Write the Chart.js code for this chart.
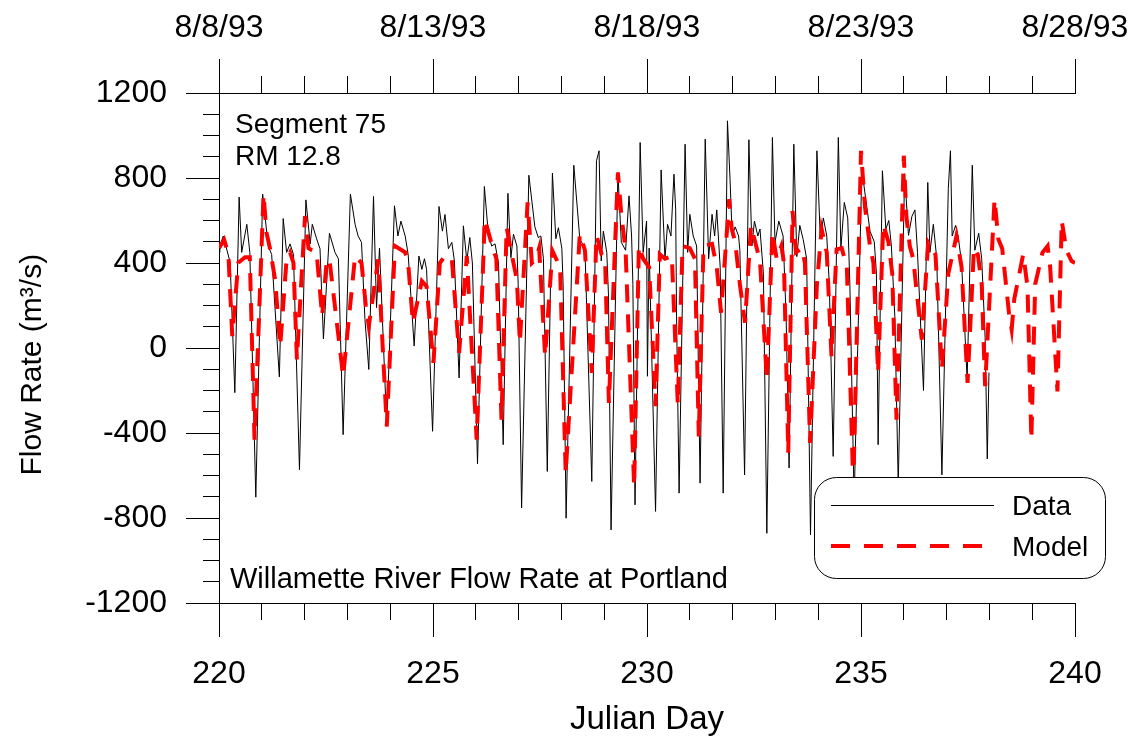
<!DOCTYPE html>
<html>
<head>
<meta charset="utf-8">
<script src="https://cdn.jsdelivr.net/npm/chart.js@4.4.1/dist/chart.umd.min.js"></script>
<style>
  html, body { margin: 0; padding: 0; background: #fff; }
  #wrap { width: 1135px; height: 740px; }
</style>
</head>
<body>
<div id="wrap"><canvas id="flowChart" width="1135" height="740"></canvas></div>
<script>
// Willamette River flow rate at Portland - data vs model

// measured flow (Julian day, m3/s)
const dataDays = [
  220.00, 220.02, 220.10, 220.26, 220.37, 220.47, 220.53, 220.65, 220.72, 220.86,
  221.02, 221.15, 221.23, 221.41, 221.50, 221.58, 221.66, 221.74, 221.88, 222.03,
  222.13, 222.18, 222.28, 222.36, 222.44, 222.58, 222.71, 222.79, 222.90, 223.07,
  223.18, 223.25, 223.33, 223.41, 223.50, 223.61, 223.68, 223.75, 223.92, 224.10,
  224.18, 224.25, 224.35, 224.42, 224.56, 224.67, 224.74, 224.80, 224.85, 224.99,
  225.14, 225.22, 225.28, 225.36, 225.44, 225.50, 225.61, 225.71, 225.79, 225.86,
  225.92, 226.04, 226.20, 226.29, 226.37, 226.45, 226.53, 226.64, 226.75, 226.82,
  226.88, 226.96, 226.99, 227.07, 227.24, 227.38, 227.46, 227.52, 227.58, 227.67,
  227.79, 227.87, 227.93, 228.01, 228.04, 228.11, 228.29, 228.43, 228.55, 228.71,
  228.82, 228.88, 228.93, 228.98, 229.06, 229.10, 229.16, 229.32, 229.40, 229.50,
  229.58, 229.64, 229.67, 229.72, 229.84, 229.91, 229.99, 230.01, 230.05, 230.20,
  230.33, 230.42, 230.48, 230.56, 230.63, 230.67, 230.69, 230.75, 230.89, 230.95,
  231.00, 231.08, 231.16, 231.24, 231.36, 231.44, 231.52, 231.58, 231.63, 231.71,
  231.78, 231.88, 231.94, 231.99, 232.06, 232.14, 232.17, 232.28, 232.38, 232.45,
  232.51, 232.59, 232.64, 232.72, 232.80, 232.93, 232.99, 233.08, 233.18, 233.25,
  233.32, 233.43, 233.50, 233.57, 233.65, 233.73, 233.82, 233.97, 234.05, 234.12,
  234.20, 234.26, 234.35, 234.47, 234.53, 234.61, 234.69, 234.74, 234.84, 235.02,
  235.21, 235.31, 235.36, 235.40, 235.50, 235.58, 235.65, 235.71, 235.79, 235.87,
  236.02, 236.11, 236.19, 236.26, 236.32, 236.46, 236.56, 236.61, 236.69, 236.77,
  236.89, 237.04, 237.09, 237.13, 237.21, 237.27, 237.35, 237.48, 237.60, 237.66,
  237.75, 237.82, 237.90, 237.95, 237.99
];
const dataFlow = [
  450, 480, 527, 403, -210, 710, 450, 582, 450, -702,
  724, 480, 440, -136, 609, 450, 490, 440, -573, 697,
  490, 582, 514, 467, 43, 540, 450, 420, -408, 724,
  582, 527, 497, 134, -101, 713, 190, 470, -369, 669,
  527, 597, 527, 440, 9, 433, 370, 420, 370, -392,
  666, 550, 628, 467, 497, 410, -141, 575, 410, 520,
  400, -545, 760, 543, 480, 490, 400, -455, 728, 425,
  535, 480, 300, -753, 813, 570, 520, 527, 420, -581,
  823, 514, 566, 470, 300, -801, 860, 514, 467, -628,
  881, 928, 410, 550, 450, 250, -856, 826, 497, 460,
  716, 527, 300, -738, 967, 450, 597, -133, 470, -769,
  838, 420, 582, 527, 818, 650, 150, -683, 959, 450,
  629, 527, 480, -636, 983, 420, 629, 527, 650, 380,
  -683, 1069, 794, 527, 570, 527, 460, -597, 980, 480,
  597, 527, 560, 350, -872, 991, 497, 597, 527, 150,
  -565, 959, 430, 577, 510, 420, -879, 928, 514, 612,
  527, 300, -510, 991, 470, 685, 612, 300, -720, 840,
  550, 500, 350, -455, 834, 560, 600, 480, 150, -640,
  820, 530, 620, 650, 450, -200, 779, 450, 582, 420,
  -597, 750, 928, 527, 577, 527, 400, -149, 860, 460,
  540, 420, 50, -522, -116
];

// model flow (Julian day, m3/s)
const modelDays = [
  220.00, 220.12, 220.22, 220.31, 220.45, 220.61, 220.72, 220.83, 221.04, 221.11,
  221.19, 221.31, 221.43, 221.58, 221.66, 221.74, 221.82, 222.01, 222.09, 222.17,
  222.28, 222.41, 222.52, 222.59, 222.90, 223.18, 223.33, 223.43, 223.50, 223.72,
  223.92, 224.11, 224.35, 224.42, 224.53, 224.74, 224.85, 225.01, 225.16, 225.28,
  225.44, 225.61, 225.79, 226.02, 226.21, 226.37, 226.48, 226.60, 226.72, 226.84,
  226.96, 227.03, 227.21, 227.31, 227.41, 227.48, 227.62, 227.79, 227.97, 228.10,
  228.43, 228.55, 228.71, 228.82, 228.94, 229.02, 229.11, 229.32, 229.40, 229.50,
  229.70, 229.81, 229.91, 230.05, 230.20, 230.30, 230.42, 230.58, 230.72, 230.83,
  231.00, 231.12, 231.21, 231.32, 231.52, 231.63, 231.73, 231.92, 231.98, 232.06,
  232.17, 232.29, 232.43, 232.64, 232.80, 232.93, 233.03, 233.14, 233.20, 233.30,
  233.40, 233.48, 233.62, 233.69, 233.81, 233.97, 234.08, 234.20, 234.31, 234.43,
  234.55, 234.67, 234.82, 235.00, 235.09, 235.21, 235.29, 235.40, 235.52, 235.64,
  235.73, 235.83, 236.00, 236.06, 236.14, 236.22, 236.42, 236.57, 236.74, 236.89,
  237.04, 237.23, 237.35, 237.49, 237.64, 237.73, 237.82, 237.90, 238.12, 238.21,
  238.30, 238.46, 238.52, 238.58, 238.79, 238.89, 238.98, 239.07, 239.24, 239.36,
  239.42, 239.59, 239.69, 239.80, 239.92, 240.00
];
const modelFlow = [
  470, 510, 440, 56, 401, 427, 427, -431, 724, 543,
  470, 323, 9, 420, 450, 400, -54, 621, 470, 460,
  450, 150, 420, 400, -133, 433, 400, 200, 103, 417,
  -369, 480, 450, 400, 119, 315, 290, -70, 400, 433,
  420, -23, 433, -431, 606, 490, 420, -337, 567, 440,
  320, 25, 685, 400, 420, 470, -38, 457, 380, -589,
  535, 460, -117, 530, 440, 420, -259, 826, 628, 460,
  -651, 480, 420, 380, -274, 441, 420, 433, -266, 480,
  470, 420, -416, 480, 490, 380, 166, 700, 560, 500,
  300, 119, 575, 410, -149, 543, 420, 480, 400, -494,
  645, 450, 470, 400, -447, 300, 559, 450, -38, 464,
  470, 380, -650, 928, 669, 480, 400, -117, 582, 500,
  350, -337, 905, 620, 480, 420, 40, 496, 440, -101,
  350, 527, 380, -164, 472, 440, 300, -180, 700, 512,
  467, 160, 87, 229, 441, 290, -431, 300, 449, 480,
  380, -204, 598, 460, 409, 400
];

const dayTicks = [220, 225, 230, 235, 240];
const dateLabels = ['8/8/93', '8/13/93', '8/18/93', '8/23/93', '8/28/93'];
const flowTicks = [-1200, -800, -400, 0, 400, 800, 1200];
const minorDayStep = 1;
const minorFlowStep = 100;

const FONT = '"Liberation Sans", Arial, sans-serif';

function toPoints(xs, ys) {
  return xs.map((d, i) => ({ x: d, y: ys[i] }));
}

function crisp(p) {
  return Math.round(p - 0.5) + 0.5;
}

// minor ticks, text notes and the rounded legend box
const extras = {
  id: 'extras',
  afterDraw(chart) {
    const ctx = chart.ctx;
    const { x, x2, y } = chart.scales;
    const area = chart.chartArea;
    ctx.save();

    // minor ticks
    ctx.strokeStyle = '#000';
    ctx.lineWidth = 1;
    ctx.beginPath();
    for (let d = dayTicks[0]; d <= dayTicks[dayTicks.length - 1]; d += minorDayStep) {
      if (dayTicks.includes(d)) continue;
      const px = crisp(x.getPixelForValue(d));
      ctx.moveTo(px, x.top);
      ctx.lineTo(px, x.top + 17);
      ctx.moveTo(px, x2.bottom);
      ctx.lineTo(px, x2.bottom - 17);
    }
    for (let v = flowTicks[0]; v <= flowTicks[flowTicks.length - 1]; v += minorFlowStep) {
      if (flowTicks.includes(v)) continue;
      const py = crisp(y.getPixelForValue(v));
      ctx.moveTo(y.right, py);
      ctx.lineTo(y.right - 16, py);
    }
    ctx.stroke();

    // notes inside the plot
    ctx.fillStyle = '#000';
    ctx.textAlign = 'left';
    ctx.textBaseline = 'alphabetic';
    ctx.font = '28px ' + FONT;
    ctx.fillText('Segment 75', area.left + 16, area.top + 40);
    ctx.fillText('RM 12.8', area.left + 16, area.top + 72);
    ctx.font = '29px ' + FONT;
    ctx.fillText('Willamette River Flow Rate at Portland', area.left + 11, area.bottom - 15);

    // legend
    const lx = 814, ly = 477.5, lw = 291, lh = 101;
    ctx.beginPath();
    ctx.roundRect(lx + 0.5, ly, lw, lh, 22);
    ctx.fillStyle = '#fff';
    ctx.fill();
    ctx.strokeStyle = '#000';
    ctx.lineWidth = 1;
    ctx.stroke();

    ctx.beginPath();
    ctx.moveTo(831, 505.5);
    ctx.lineTo(994, 505.5);
    ctx.stroke();

    ctx.beginPath();
    ctx.strokeStyle = '#ff0000';
    ctx.lineWidth = 4;
    ctx.setLineDash([19, 14]);
    ctx.moveTo(831, 546);
    ctx.lineTo(988, 546);
    ctx.stroke();
    ctx.setLineDash([]);

    ctx.fillStyle = '#000';
    ctx.font = '28px ' + FONT;
    ctx.fillText('Data', 1012, 515);
    ctx.fillText('Model', 1012, 556);

    ctx.restore();
  }
};

const axisGrid = {
  drawOnChartArea: false,
  drawTicks: true,
  tickLength: 34,
  color: '#000',
  lineWidth: 1
};

// the label overhang is already covered by the layout padding
function noOverhang(s) {
  s.paddingLeft = 0;
  s.paddingRight = 0;
  s.paddingTop = 0;
  s.paddingBottom = 0;
}

const chart = new Chart(document.getElementById('flowChart'), {
  type: 'line',
  data: {
    datasets: [
      {
        label: 'Data',
        data: toPoints(dataDays, dataFlow),
        borderColor: '#000',
        borderWidth: 1,
        pointRadius: 0,
        tension: 0,
        order: 1
      },
      {
        label: 'Model',
        data: toPoints(modelDays, modelFlow),
        borderColor: '#ff0000',
        borderWidth: 4,
        borderDash: [18, 12],
        pointRadius: 0,
        tension: 0,
        order: 0
      }
    ]
  },
  options: {
    responsive: false,
    animation: false,
    devicePixelRatio: 1,
    layout: { padding: { left: 11, right: 60, top: 0, bottom: 0 } },
    plugins: {
      legend: { display: false },
      tooltip: { enabled: false }
    },
    scales: {
      x: {
        type: 'linear',
        position: 'bottom',
        min: 220,
        max: 240,
        grid: axisGrid,
        border: { display: true, color: '#000', width: 1 },
        ticks: {
          stepSize: 5,
          padding: 18,
          color: '#000',
          font: { family: FONT, size: 32 },
          callback: (v) => String(v)
        },
        title: {
          display: true,
          text: 'Julian Day',
          color: '#000',
          font: { family: FONT, size: 33 },
          padding: { top: 0, bottom: 0 }
        },
        afterFit: (s) => { s.height = 740 - 603; noOverhang(s); }
      },
      x2: {
        type: 'linear',
        position: 'top',
        min: 220,
        max: 240,
        grid: axisGrid,
        border: { display: true, color: '#000', width: 1 },
        ticks: {
          stepSize: 5,
          padding: 12,
          color: '#000',
          font: { family: FONT, size: 32 },
          callback: (v) => {
            const i = dayTicks.indexOf(v);
            return i >= 0 ? dateLabels[i] : '';
          }
        },
        afterFit: (s) => { s.height = 93; noOverhang(s); }
      },
      y: {
        type: 'linear',
        position: 'left',
        min: -1200,
        max: 1200,
        grid: Object.assign({}, axisGrid, { tickLength: 33 }),
        border: { display: true, color: '#000', width: 1 },
        ticks: {
          stepSize: 400,
          padding: 19,
          color: '#000',
          font: { family: FONT, size: 32 },
          callback: (v) => String(v)
        },
        title: {
          display: true,
          text: 'Flow Rate (m³/s)    ',
          color: '#000',
          font: { family: FONT, size: 30 },
          padding: { top: 4, bottom: 4 }
        },
        afterFit: (s) => { s.width = 219 - 11; noOverhang(s); }
      }
    }
  },
  plugins: [extras]
});
</script>
</body>
</html>
